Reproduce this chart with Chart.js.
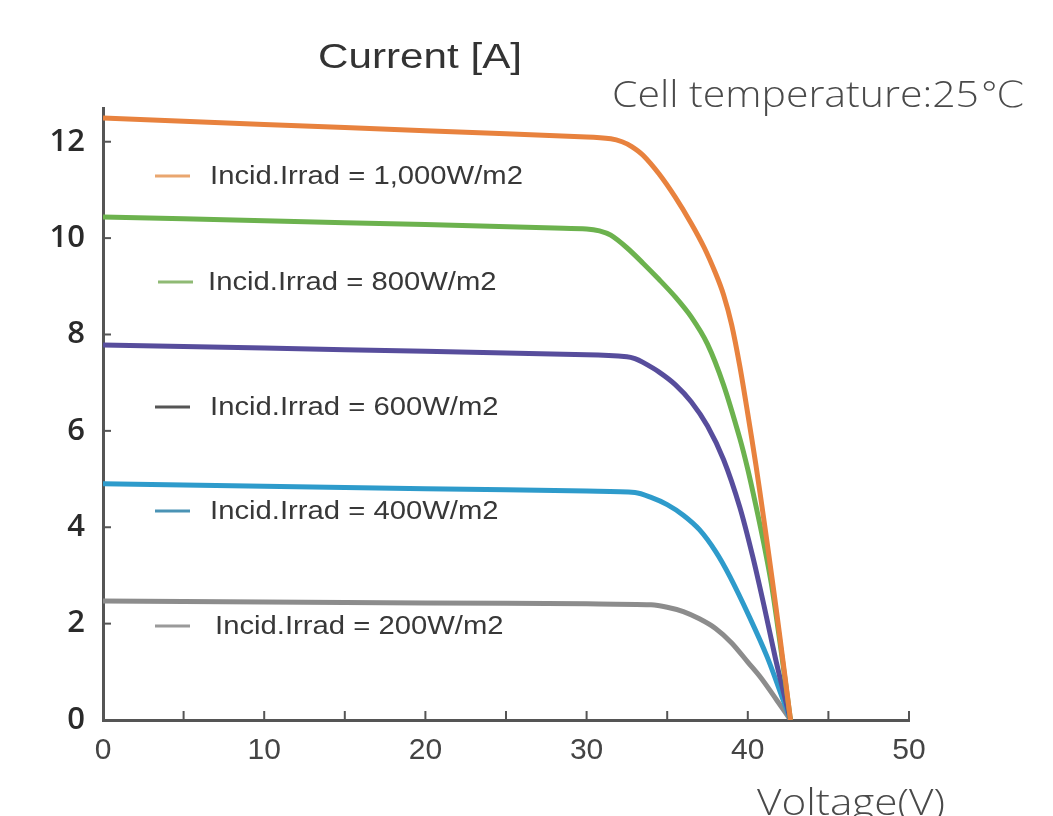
<!DOCTYPE html>
<html>
<head>
<meta charset="utf-8">
<script src="https://cdn.jsdelivr.net/npm/chart.js"></script>
<style>
  body { margin: 0; background: #fff; }
  #wrap { width: 1053px; height: 816px; position: relative; }
</style>
</head>
<body>
<div id="wrap"><canvas id="chart-iv"></canvas></div>
<script>
// I-V curves, [voltage, current]
const irr1000 = [[0, 12.49], [10, 12.36], [20, 12.23], [30, 12.1], [31.5, 12.06], [32.2, 12.0], [32.8, 11.9], [33.5, 11.72], [34.5, 11.33], [35.5, 10.85], [36.5, 10.3], [37.3, 9.8], [38, 9.27], [38.5, 8.82], [39, 8.2], [39.5, 7.35], [40, 6.35], [40.5, 5.3], [41, 4.15], [41.5, 2.95], [42, 1.7], [42.65, 0]];
const irr800 = [[0, 10.44], [10, 10.36], [20, 10.28], [28, 10.21], [30, 10.19], [30.8, 10.15], [31.5, 10.06], [32.5, 9.8], [33.5, 9.48], [34.5, 9.14], [35.5, 8.78], [36.5, 8.36], [37.5, 7.8], [38.5, 6.95], [39.5, 5.85], [40, 5.2], [40.5, 4.45], [41, 3.65], [41.5, 2.75], [42, 1.6], [42.65, 0]];
const irr600 = [[0, 7.78], [10, 7.72], [20, 7.65], [30, 7.58], [32.5, 7.54], [33, 7.5], [33.5, 7.42], [34.5, 7.22], [35.5, 6.96], [36.5, 6.6], [37.5, 6.1], [38.5, 5.4], [39.5, 4.42], [40.3, 3.4], [41, 2.38], [41.7, 1.3], [42.2, 0.6], [42.65, 0]];
const irr400 = [[0, 4.9], [10, 4.85], [20, 4.8], [30, 4.75], [33, 4.72], [34, 4.62], [35, 4.47], [36, 4.25], [37, 3.95], [38, 3.5], [38.9, 2.97], [40.1, 2.14], [41.2, 1.31], [42.2, 0.41], [42.65, 0]];
const irr200 = [[0, 2.47], [10, 2.45], [20, 2.43], [30, 2.41], [34, 2.39], [35, 2.34], [36, 2.25], [37, 2.1], [38, 1.9], [39, 1.6], [40, 1.2], [40.8, 0.88], [41.8, 0.41], [42.65, 0]];

const seriesLabels = ["Incid.Irrad = 1,000W/m2", "Incid.Irrad = 800W/m2", "Incid.Irrad = 600W/m2", "Incid.Irrad = 400W/m2", "Incid.Irrad = 200W/m2"];
const xTicks = [0, 10, 20, 30, 40, 50];
const yTicks = [0, 2, 4, 6, 8, 10, 12];

const toPts = arr => arr.map(p => ({ x: p[0], y: p[1] }));

const lineColors = ["#e8823e", "#6cb24e", "#574d9c", "#2e9bcb", "#8c8c8c"];
const swatchColors = ["#e9a66f", "#8fba74", "#555555", "#4a93b5", "#9a9a9a"];
// where each legend row sits (px)
const legendRows = [
    { x: 155, tx: 210, y: 176 },
    { x: 158, tx: 208, y: 282 },
    { x: 155, tx: 210, y: 407 },
    { x: 155, tx: 210, y: 511 },
    { x: 155, tx: 215, y: 626 }
];

const allData = [irr1000, irr800, irr600, irr400, irr200];

// the source picture is a bit stretched sideways, so text is drawn wider
function wideText(ctx, text, x, y, sx) {
    ctx.save();
    ctx.translate(x, y);
    ctx.scale(sx, 1);
    ctx.fillText(text, 0, 0);
    ctx.restore();
}

function fitText(ctx, text, x, y, width) {
    const w = ctx.measureText(text).width;
    wideText(ctx, text, x, y, width / w);
}

const decorPlugin = {
    id: "decor",
    afterDraw(chart) {
        const ctx = chart.ctx;
        const xs = chart.scales.x, ys = chart.scales.y;
        const area = chart.chartArea;

        ctx.save();
        // tick marks pointing inwards
        ctx.strokeStyle = "#555";
        ctx.lineWidth = 2;
        for (let v = 0; v <= 50; v += 5) {
            const px = xs.getPixelForValue(v);
            ctx.beginPath();
            ctx.moveTo(px, area.bottom);
            ctx.lineTo(px, area.bottom - 9);
            ctx.stroke();
        }
        yTicks.forEach(v => {
            const py = ys.getPixelForValue(v);
            ctx.beginPath();
            ctx.moveTo(area.left, py);
            ctx.lineTo(area.left + 8, py);
            ctx.stroke();
        });

        // legend rows
        ctx.textBaseline = "middle";
        ctx.textAlign = "left";
        ctx.font = "25px 'Liberation Sans', Arial, sans-serif";
        chart.data.datasets.forEach((ds, i) => {
            const r = legendRows[i];
            ctx.strokeStyle = swatchColors[i];
            ctx.lineWidth = 3;
            ctx.beginPath();
            ctx.moveTo(r.x, r.y);
            ctx.lineTo(r.x + 35, r.y);
            ctx.stroke();
            ctx.fillStyle = "#383838";
            wideText(ctx, ds.label, r.tx, r.y + 1, 1.17);
        });

        // titles
        ctx.fillStyle = "#333";
        ctx.font = "35px 'Liberation Sans', Arial, sans-serif";
        fitText(ctx, "Current [A]", 318, 58, 204);

        ctx.fillStyle = "#4a4a4a";
        ctx.font = "300 36px 'Open Sans', 'DejaVu Sans', sans-serif";
        fitText(ctx, "Cell temperature:25℃", 612, 97, 413);
        fitText(ctx, "Voltage(V)", 757, 805, 188);
        ctx.restore();
    }
};

new Chart(document.getElementById("chart-iv"), {
    type: "line",
    data: {
        datasets: allData.map((d, i) => ({
            label: seriesLabels[i],
            data: toPts(d),
            borderColor: lineColors[i],
            borderWidth: 5,
            pointRadius: 0,
            fill: false,
            tension: 0.3
        }))
    },
    options: {
        responsive: true,
        maintainAspectRatio: false,
        animation: false,
        layout: { padding: { top: 108, right: 144, left: 0, bottom: 0 } },
        plugins: {
            legend: { display: false },
            tooltip: { enabled: false }
        },
        scales: {
            x: {
                type: "linear",
                min: 0,
                max: 50,
                afterFit: s => { s.height = 96; },
                afterBuildTicks: s => { s.ticks = xTicks.map(v => ({ value: v })); },
                grid: { display: false, drawTicks: false },
                border: { display: true, color: "#555", width: 3 },
                ticks: {
                    padding: 13,
                    color: "#444",
                    font: { family: "'Liberation Sans', Arial, sans-serif", size: 30 }
                }
            },
            y: {
                min: 0,
                max: 12.7,
                afterFit: s => { s.width = 103; },
                afterBuildTicks: s => { s.ticks = yTicks.map(v => ({ value: v })); },
                grid: { display: false, drawTicks: false },
                border: { display: true, color: "#555", width: 3 },
                ticks: {
                    padding: 18,
                    color: "#2a2a2a",
                    font: { family: "'Open Sans', sans-serif", size: 31, weight: "600" }
                }
            }
        }
    },
    plugins: [decorPlugin]
});
</script>
</body>
</html>
